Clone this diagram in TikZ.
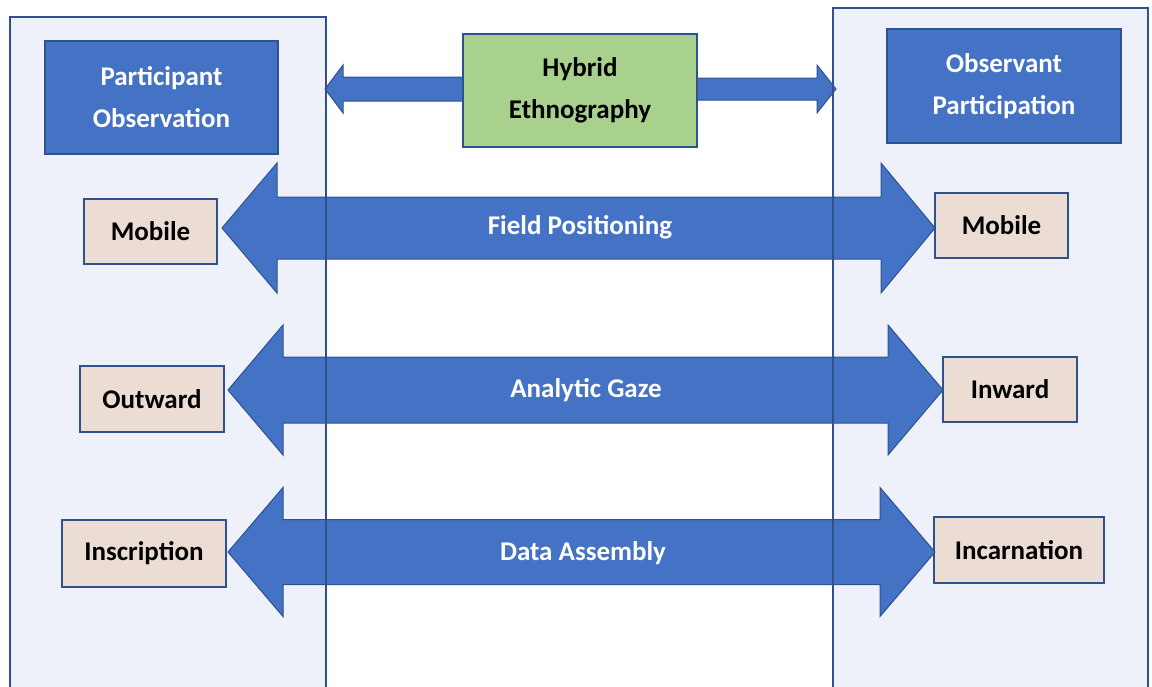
\documentclass[tikz,border=0pt]{standalone}
\usepackage{fontspec}
\setmainfont{Carlito}
\definecolor{panelfill}{HTML}{EEF1F9}
\definecolor{edgeblue}{HTML}{2F528F}
\definecolor{mainblue}{HTML}{4472C4}
\definecolor{hybgreen}{HTML}{A9D18E}
\definecolor{beige}{HTML}{EBDCD4}
\tikzset{
  panel/.style={fill=panelfill,draw=none},
  panelline/.style={draw=edgeblue,line width=1.4pt},
  headbox/.style={draw=edgeblue,line width=1.4pt,fill=mainblue,text=white,align=center,
    font=\fontsize{27}{42}\selectfont\bfseries,inner sep=0pt},
  hybbox/.style={draw=edgeblue,line width=1.4pt,fill=hybgreen,text=black,align=center,
    font=\fontsize{27}{42}\selectfont\bfseries,inner sep=0pt},
  termbox/.style={draw=edgeblue,line width=1.4pt,fill=beige,text=black,align=center,
    font=\fontsize{27}{32}\selectfont\bfseries,inner sep=0pt},
  blockarrow/.style={fill=mainblue,draw=edgeblue,line width=1pt,line join=miter},
  arrowlabel/.style={text=white,font=\fontsize{27}{32}\selectfont\bfseries,inner sep=0pt}
}
% left tip, left back, right back, right tip, centre y, shaft half, head half
\newcommand\dblarrow[7]{%
  \filldraw[blockarrow] (#1,#5) -- (#2,#5-#7) -- (#2,#5-#6) -- (#3,#5-#6) -- (#3,#5-#7)
    -- (#4,#5) -- (#3,#5+#7) -- (#3,#5+#6) -- (#2,#5+#6) -- (#2,#5+#7) -- cycle;}
\begin{document}
\begin{tikzpicture}[x=1pt,y=-1pt]
\useasboundingbox (0,0) rectangle (1152,686);
\clip (0,0) rectangle (1152,686);
% panels
\fill[panel] (10,17) rectangle (326,700);
\fill[panel] (833,8) rectangle (1148,700);
% nodes
\node[termbox,minimum width=133pt,minimum height=65pt] (mobL) at (150.5,231.5) {Mobile};
\node[termbox,minimum width=133pt,minimum height=65pt] (mobR) at (1001.5,225.5) {Mobile};
\node[termbox,minimum width=144pt,minimum height=66pt] (outL) at (152,399) {Outward};
\node[termbox,minimum width=134pt,minimum height=65pt] (inR) at (1010,389.5) {Inward};
\node[termbox,minimum width=164pt,minimum height=67pt] (insL) at (144,553.5) {Inscription};
\node[termbox,minimum width=170pt,minimum height=66pt] (incR) at (1019,550) {Incarnation};
% big double arrows
\dblarrow{222}{277}{881}{935}{228}{31}{65}
\dblarrow{228}{283}{888}{943}{390}{33}{65}
\dblarrow{228}{283}{880}{935}{552}{32.5}{64.5}
\node[arrowlabel] (fp) at (580,227) {Field Positioning};
\node[arrowlabel] (ag) at (586,390) {Analytic Gaze};
\node[arrowlabel] (da) at (583,553) {Data Assembly};
% top arrows from hybrid box
\coordinate (tl) at (325,89);
\coordinate (tr) at (836,89);
\filldraw[blockarrow] (463,77) -- (343,77) -- (343,65) -- (tl) -- (343,113) -- (343,101) -- (463,101);
\filldraw[blockarrow] (697,78) -- (817,78) -- (817,65) -- (tr) -- (817,113) -- (817,100) -- (697,100);
% panel borders
\draw[panelline] (10,700) -- (10,17) -- (326,17) -- (326,700);
\draw[panelline] (833,700) -- (833,8) -- (1148,8) -- (1148,700);
% header boxes
\node[headbox,minimum width=233pt,minimum height=113pt] (po) at (161.5,97.5) {Participant\\Observation};
\node[headbox,minimum width=234pt,minimum height=114pt] (op) at (1004,86) {Observant\\Participation};
\node[hybbox,minimum width=234pt,minimum height=113pt] (he) at (580,90.5) {Hybrid\\Ethnography};
\end{tikzpicture}
\end{document}
